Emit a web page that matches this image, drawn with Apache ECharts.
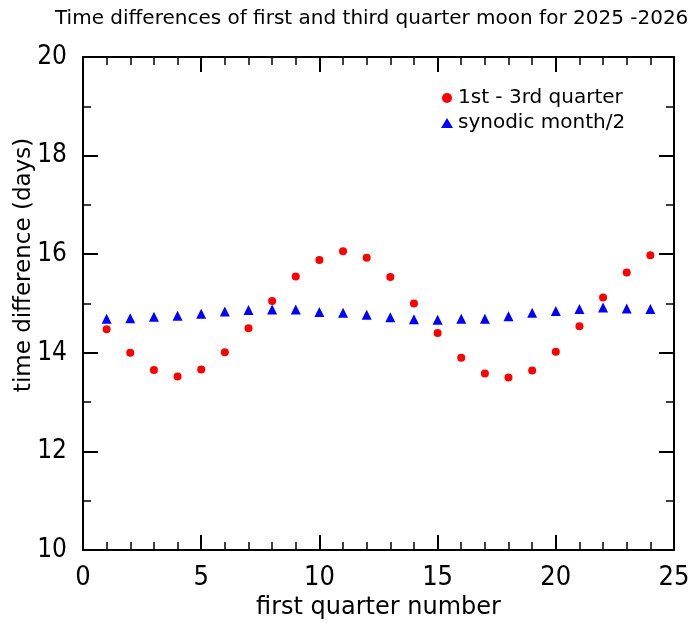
<!DOCTYPE html>
<html><head><meta charset="utf-8">
<script src="https://cdn.jsdelivr.net/npm/echarts@6/dist/echarts.min.js"></script>
<style>html,body{margin:0;padding:0;background:#fff}#c{width:695px;height:629px}</style>
</head><body><div id="c"></div>
<script>
var quarterNumbers = [1,2,3,4,5,6,7,8,9,10,11,12,13,14,15,16,17,18,19,20,21,22,23,24];
var firstToThird = [14.48,14.00,13.65,13.52,13.66,14.01,14.50,15.05,15.55,15.88,16.06,15.93,
                    15.54,15.00,14.40,13.90,13.58,13.50,13.64,14.02,14.54,15.12,15.63,15.98];
var halfSynodic = [14.69,14.70,14.73,14.75,14.79,14.84,14.87,14.88,14.88,14.83,14.81,14.77,
                   14.72,14.68,14.67,14.69,14.69,14.74,14.81,14.85,14.89,14.92,14.90,14.89];
var seriesNames = ['1st - 3rd quarter', 'synodic month/2'];
var titleText = 'Time differences of first and third quarter moon for 2025 -2026';
var xName = 'first quarter number';
var yName = 'time difference (days)';

var FONT = '"Liberation Sans Narrow", "DejaVu Sans Condensed", "DejaVu Sans", sans-serif';
var FONT2 = '"DejaVu Sans", sans-serif';
function pairs(xs, ys){ return xs.map(function(x,i){ return [x, ys[i]]; }); }
var lineStyle = {color:'#000', width:2};
function mkX(pos, show){
  return {type:'value', position:pos, min:0, max:25, interval:5,
    axisLine:{show:true, onZero:false, lineStyle:lineStyle},
    axisTick:{show:true, inside:true, length:15, lineStyle:lineStyle},
    minorTick:{show:true, splitNumber:5, length:8, lineStyle:{color:'#000', width:1.5}},
    splitLine:{show:false},
    axisLabel:{show:show, color:'#000', fontSize:27, fontFamily:FONT, margin:14},
    name: show ? xName : '', nameLocation:'middle', nameGap:46,
    nameTextStyle:{color:'#000', fontSize:24, fontFamily:FONT2}};
}
function mkY(pos, show){
  return {type:'value', position:pos, min:10, max:20, interval:2,
    axisLine:{show:true, onZero:false, lineStyle:lineStyle},
    axisTick:{show:true, inside:true, length:15, lineStyle:lineStyle},
    minorTick:{show:true, splitNumber:2, length:8, lineStyle:{color:'#000', width:1.5}},
    splitLine:{show:false},
    axisLabel:{show:show, color:'#000', fontSize:26, fontFamily:FONT, margin:16},
    name:'', nameLocation:'middle'};
}
var chart = echarts.init(document.getElementById('c'));
chart.setOption({
  animation:false,
  title:{text:titleText, left:50, top:4,
    textStyle:{color:'#000', fontSize:20, fontWeight:'normal', fontFamily:FONT2}},
  grid:{left:83, top:57, right:21, bottom:79},
  legend:{orient:'vertical', left:436, top:83, itemWidth:12, itemHeight:10, itemGap:5,
    textStyle:{color:'#000', fontSize:20, fontFamily:FONT2},
    data:seriesNames},
  graphic:[{type:'text', x:24, y:265, rotation:Math.PI/2,
    style:{text:yName, fill:'#000', fontSize:23, fontFamily:FONT2,
      textAlign:'center', textVerticalAlign:'middle'}}],
  xAxis:[mkX('bottom', true), mkX('top', false)],
  yAxis:[mkY('left', true), mkY('right', false)],
  series:[
    {name:seriesNames[0], type:'scatter', symbol:'circle', symbolSize:8,
     itemStyle:{color:'#ff0000', opacity:1}, data:pairs(quarterNumbers, firstToThird)},
    {name:seriesNames[1], type:'scatter', symbol:'triangle', symbolSize:10,
     itemStyle:{color:'#0000ff', opacity:1}, data:pairs(quarterNumbers, halfSynodic)}
  ]
});
</script></body></html>
